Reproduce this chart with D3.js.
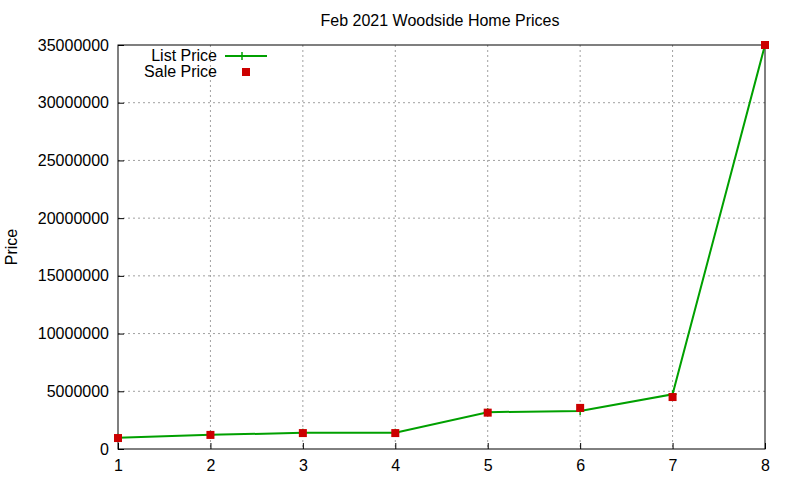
<!DOCTYPE html>
<html><head><script src="https://cdn.jsdelivr.net/npm/d3@7"></script>
<style>body{margin:0;background:#fff}text{font-family:"Liberation Sans",Arial,sans-serif}</style></head>
<body><svg id="c" width="800" height="480"></svg>
<script>
const xs=[1,2,3,4,5,6,7,8];
const listPrice=[970000,1230000,1400000,1400000,3190000,3300000,4740000,35000000];
const salePrice=[950000,1220000,1380000,1380000,3150000,3560000,4500000,35000000];
const yTicks=[0,5000000,10000000,15000000,20000000,25000000,30000000,35000000];
const svg=d3.select("#c");
const m={l:118,r:765,t:45,b:449};
const x=d3.scaleLinear().domain([1,8]).range([m.l,m.r]);
const y=d3.scaleLinear().domain([0,35000000]).range([m.b,m.t]);
const g=svg.append("g");
g.selectAll(".gx").data(xs.slice(1,-1)).join("line").attr("x1",d=>x(d)).attr("x2",d=>x(d)).attr("y1",m.t).attr("y2",m.b).attr("stroke","#a0a0a0").attr("stroke-dasharray","2,3");
g.selectAll(".gy").data(yTicks.slice(1,-1)).join("line").attr("y1",d=>y(d)).attr("y2",d=>y(d)).attr("x1",m.l).attr("x2",m.r).attr("stroke","#a0a0a0").attr("stroke-dasharray","2,3");
g.append("rect").attr("x",m.l).attr("y",m.t).attr("width",m.r-m.l).attr("height",m.b-m.t).attr("fill","none").attr("stroke","#000");
const ax=svg.append("g").attr("transform",`translate(0,${m.b})`).call(d3.axisBottom(x).tickValues(xs).tickFormat(d3.format("d")).tickSizeInner(-6).tickSizeOuter(0).tickPadding(9));
const ay=svg.append("g").attr("transform",`translate(${m.l},0)`).call(d3.axisLeft(y).tickValues(yTicks).tickFormat(d3.format("d")).tickSizeInner(-6).tickSizeOuter(0).tickPadding(9));
[ax,ay].forEach(a=>{a.select(".domain").remove();a.selectAll("text").attr("font-size",16).attr("fill","#000");});
ax.selectAll("text").attr("dy","0.8em");
svg.append("text").attr("x",440).attr("y",26).attr("text-anchor","middle").attr("font-size",16).text("Feb 2021 Woodside Home Prices");
svg.append("text").attr("transform","translate(17,247) rotate(-90)").attr("text-anchor","middle").attr("font-size",16).text("Price");
const line=d3.line().x((d,i)=>x(xs[i])).y(d=>y(d));
svg.append("path").datum(listPrice).attr("d",line).attr("fill","none").attr("stroke","#00a000").attr("stroke-width",2);
svg.selectAll(".lp").data(listPrice).join("path").attr("d",(d,i)=>`M${x(xs[i])-4},${y(d)}h8M${x(xs[i])},${y(d)-4}v8`).attr("stroke","#00a000").attr("stroke-width",1.5);
svg.selectAll(".sp").data(salePrice).join("rect").attr("x",(d,i)=>x(xs[i])-4).attr("y",d=>y(d)-4).attr("width",8).attr("height",8).attr("fill","#cc0000");
svg.append("text").attr("x",217).attr("y",61).attr("text-anchor","end").attr("font-size",16).text("List Price");
svg.append("line").attr("x1",225).attr("x2",267).attr("y1",56).attr("y2",56).attr("stroke","#00a000").attr("stroke-width",2);
svg.append("path").attr("d","M242,52v8").attr("stroke","#00a000").attr("stroke-width",1.5);
svg.append("text").attr("x",217).attr("y",77).attr("text-anchor","end").attr("font-size",16).text("Sale Price");
svg.append("rect").attr("x",242).attr("y",68).attr("width",8).attr("height",8).attr("fill","#cc0000");
</script></body></html>
